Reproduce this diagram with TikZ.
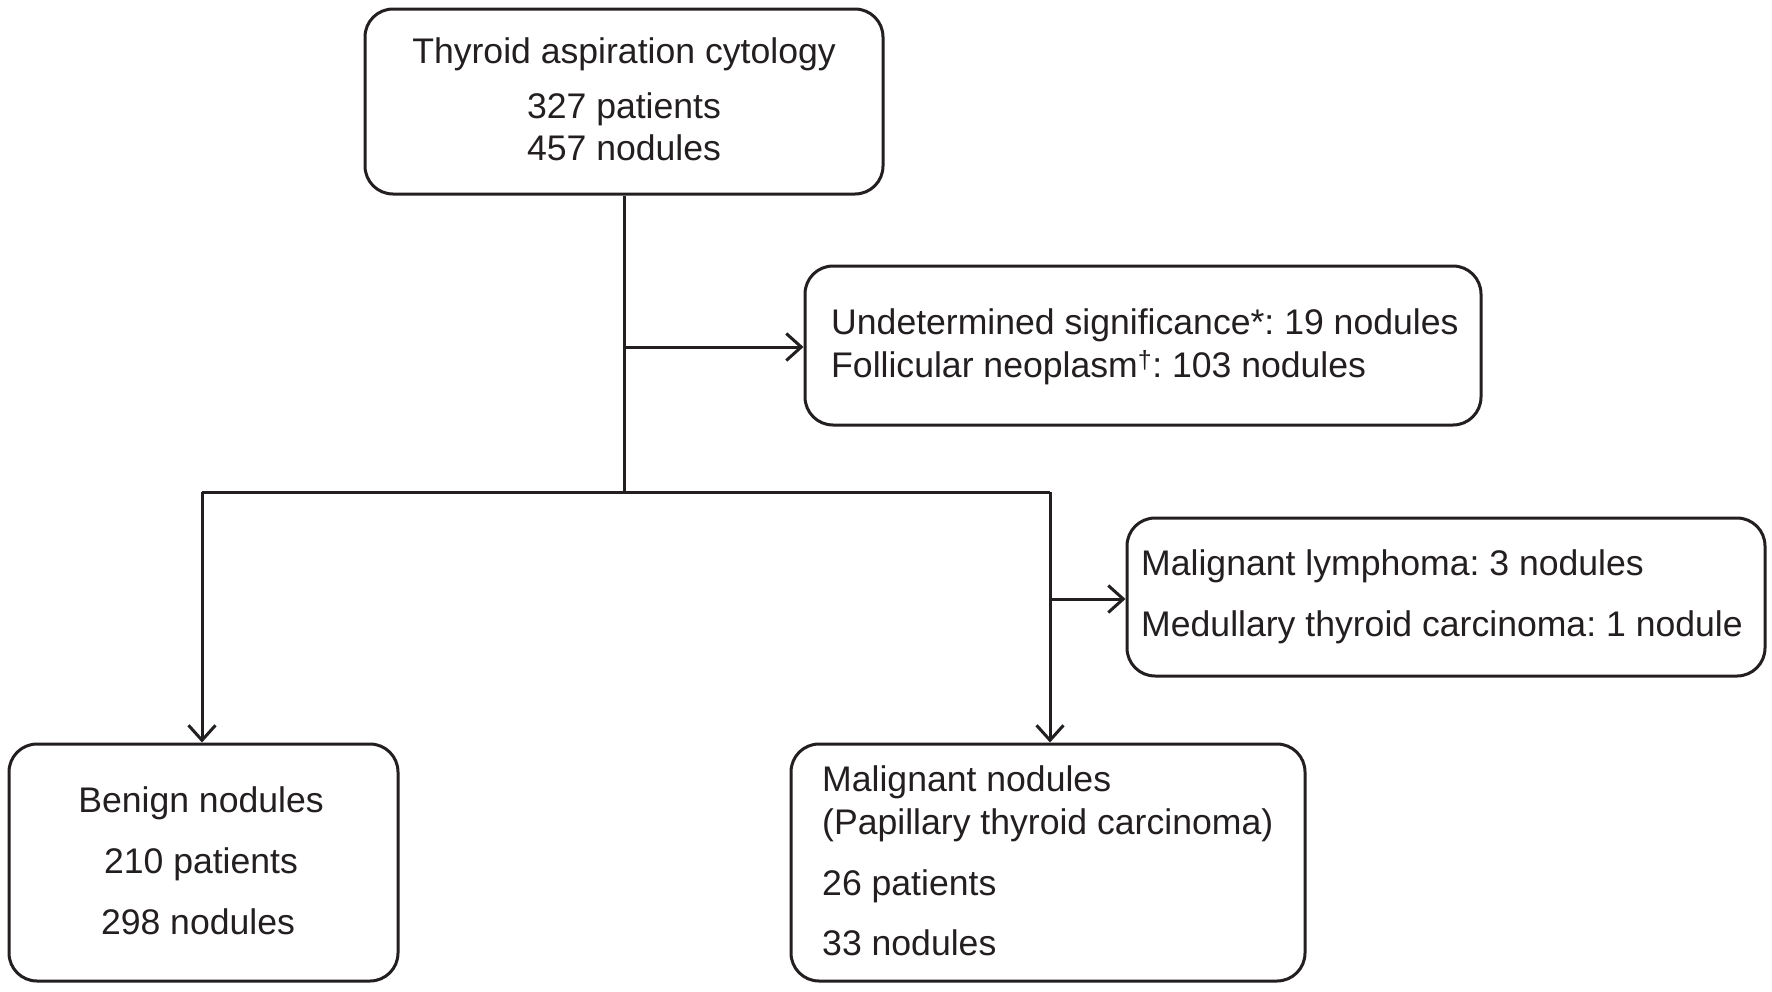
\documentclass[tikz,border=0pt]{standalone}
\usepackage{fontspec}
\setmainfont{Liberation Sans}
\usetikzlibrary{arrows.meta}
\definecolor{ink}{HTML}{231F20}
\frenchspacing
\begin{document}
\begin{tikzpicture}[x=1pt,y=-1pt,
  box/.style={draw=ink, line width=3pt, rounded corners=28pt, inner sep=0pt},
  txt/.style={font=\fontsize{35.6pt}{42pt}\selectfont\frenchspacing, text=ink, inner sep=0pt},
  conn/.style={draw=ink, line width=3pt},
  arr/.style={conn, -{Straight Barb[length=15pt,width=27pt,line width=3pt]}}
]
\useasboundingbox[fill=white] (0,0) rectangle (1772,991);
% boxes
\node[box, minimum width=518pt, minimum height=185pt] (top) at (624,101.5) {};
\node[box, minimum width=676pt, minimum height=159pt] (und) at (1143,345.5) {};
\node[box, minimum width=638pt, minimum height=158pt] (mal) at (1446,597) {};
\node[box, minimum width=389pt, minimum height=237pt] (ben) at (203.5,862.5) {};
\node[box, minimum width=514pt, minimum height=237pt] (mln) at (1048,862.5) {};
% texts
\node[txt, anchor=mid] (t1) at (624,61) {Thyroid aspiration cytology};
\node[txt, anchor=mid] (t2) at (624,116) {327 patients};
\node[txt, anchor=mid] (t3) at (624,158) {457 nodules};
\node[txt, anchor=mid west] (u1) at (831,332) {Undetermined significance*: 19 nodules};
\node[txt, anchor=mid west] (u2) at (831,375) {Follicular neoplasm\textsuperscript{†}: 103 nodules};
\node[txt, anchor=mid west] (m1) at (1141,573) {Malignant lymphoma: 3 nodules};
\node[txt, anchor=mid west] (m2) at (1141,634) {Medullary thyroid carcinoma: 1 nodule};
\node[txt, anchor=mid] (b1) at (201,810) {Benign nodules};
\node[txt, anchor=mid] (b2) at (201,871) {210 patients};
\node[txt, anchor=mid] (b3) at (198,932) {298 nodules};
\node[txt, anchor=mid west] (p1) at (822,789) {Malignant nodules};
\node[txt, anchor=mid west] (p2) at (822,832) {(Papillary thyroid carcinoma)};
\node[txt, anchor=mid west] (p3) at (822,893) {26 patients};
\node[txt, anchor=mid west] (p4) at (822,953) {33 nodules};
% connectors
\coordinate (j1) at (624,347);
\coordinate (j2) at (624,492);
\coordinate (jl) at (202,492);
\coordinate (jr) at (1050,492);
\coordinate (j3) at (1050,599);
\draw[conn] (top.south) -- (j2);
\draw[arr] (j1) -- (j1 -| und.west);
\draw[conn] (jl) -- (jr);
\draw[arr] (jl) -- (jl |- ben.north);
\draw[arr] (jr) -- (jr |- mln.north);
\draw[arr] (j3) -- (j3 -| mal.west);
\end{tikzpicture}
\end{document}
